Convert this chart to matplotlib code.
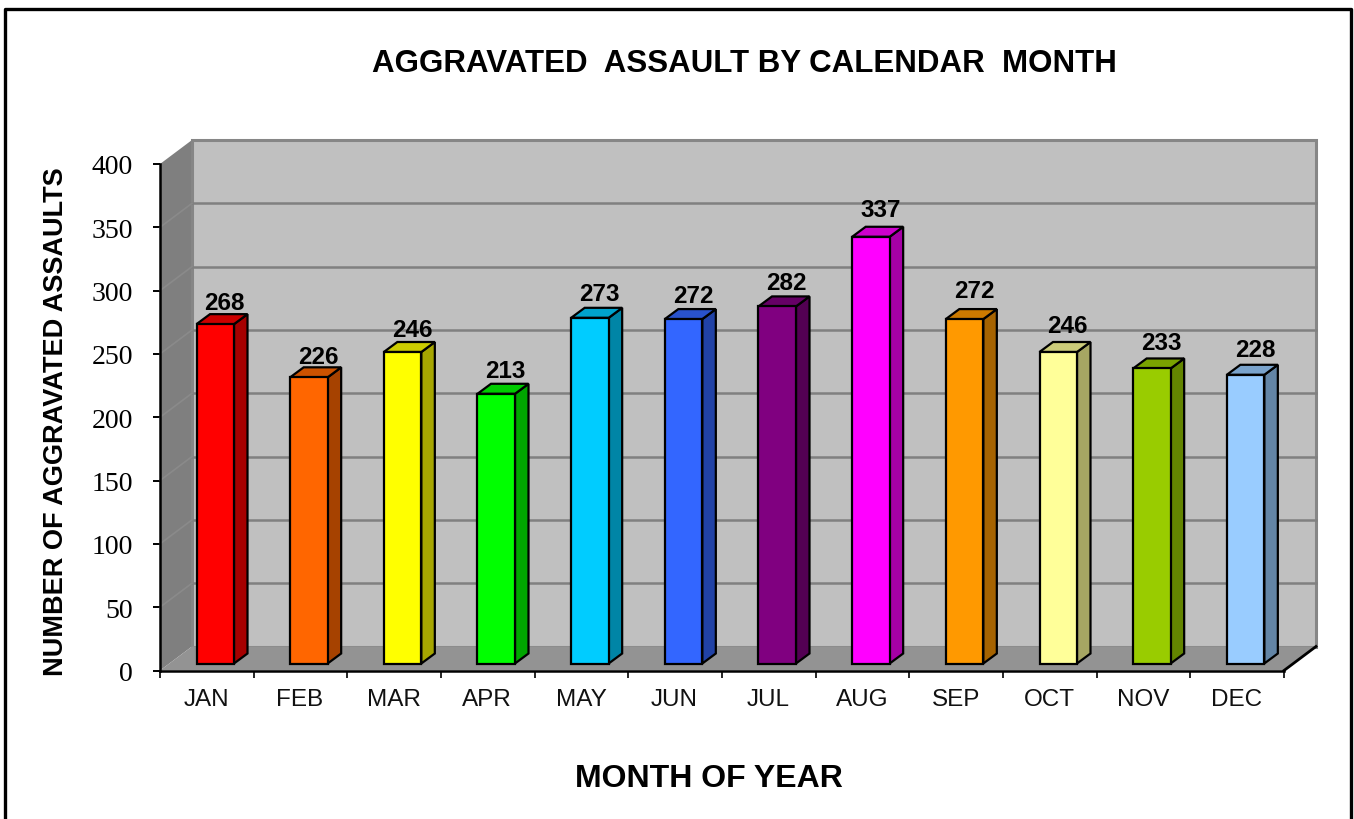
import matplotlib
matplotlib.use("Agg")
import matplotlib.pyplot as plt

months = ["JAN", "FEB", "MAR", "APR", "MAY", "JUN", "JUL", "AUG", "SEP", "OCT", "NOV", "DEC"]
assaults = [268, 226, 246, 213, 273, 272, 282, 337, 272, 246, 233, 228]
front_colors = ["#FF0000", "#FF6600", "#FFFF00", "#00FF00", "#00CCFF", "#3366FF",
                "#800080", "#FF00FF", "#FF9900", "#FFFF99", "#99CC00", "#99CCFF"]
top_colors = ["#CC0000", "#CC5200", "#CCCC00", "#00CC00", "#00A3CC", "#2952CC",
              "#660066", "#CC00CC", "#CC7A00", "#CCCC7A", "#7AA300", "#7AA3CC"]
side_colors = ["#A60000", "#A64200", "#A6A600", "#00A600", "#0085A6", "#2142A6",
               "#530053", "#A600A6", "#A66300", "#A6A663", "#638500", "#6385A6"]
y_ticks = [0, 50, 100, 150, 200, 250, 300, 350, 400]
label_lift_px = [12, 11, 13, 13, 14, 14, 14, 17, 19, 17, 16, 15]

W, H = 1354, 820
fig = plt.figure(figsize=(W / 100, H / 100), dpi=100, facecolor="white")
L, R, B, T = 160, 1284, 671.5, 165
ax = fig.add_axes([L / W, 1 - B / H, (R - L) / W, (B - T) / H])
ax.set_xlim(0, 12)
ax.set_ylim(0, 400)
ax.set_facecolor("none")
px_x = (R - L) / 12
px_y = (B - T) / 400

# chart-box depth, in data units
dx = 32 / px_x
dy = 24 / px_y
# bar placement and depth, in data units
bar_off = 36.5 / px_x
bar_w = 37.5 / px_x
base = 7 / px_y
bdx = 13.5 / px_x
bdy = 10 / px_y

# walls and floor
ax.fill([0, dx, dx, 0], [0, dy, 400 + dy, 400], color="#7F7F7F", lw=0, zorder=1, clip_on=False)
ax.fill([dx, 12 + dx, 12 + dx, dx], [dy, dy, 400 + dy, 400 + dy], facecolor="#C0C0C0",
        edgecolor="#868686", lw=2.2, zorder=1, clip_on=False)
ax.fill([0, 12, 12 + dx, dx], [0, 0, dy, dy], color="#939393", lw=0, zorder=2, clip_on=False)
for v in y_ticks[1:-1]:
    ax.plot([dx, 12 + dx], [v + dy, v + dy], color="#808080", lw=1.8, zorder=2, clip_on=False)
    ax.plot([0, dx], [v, v + dy], color="#8A8A8A", lw=1.2, zorder=2, clip_on=False)
ax.plot([12, 12 + dx], [0, dy], color="black", lw=2, zorder=3, clip_on=False)

# bars
xs = [i + bar_off for i in range(len(months))]
ax.bar(xs, assaults, width=bar_w, bottom=base, align="edge", color=front_colors,
       edgecolor="black", linewidth=1.6, zorder=6, clip_on=False)
for x, v, ct, cs, lift in zip(xs, assaults, top_colors, side_colors, label_lift_px):
    t = v + base
    ax.fill([x + bar_w, x + bar_w + bdx, x + bar_w + bdx, x + bar_w],
            [base, base + bdy, t + bdy, t], facecolor=cs, edgecolor="black", lw=1.6,
            zorder=5, clip_on=False)
    ax.fill([x, x + bdx, x + bar_w + bdx, x + bar_w], [t, t + bdy, t + bdy, t],
            facecolor=ct, edgecolor="black", lw=1.6, zorder=5, clip_on=False)
    ax.annotate(str(v), (x + bar_w + bdx, t + bdy), xytext=(-16.5, lift * 0.72),
                textcoords="offset points", ha="center", va="center", fontsize=17.5,
                fontweight="bold", family="Liberation Sans", color="black", zorder=7)

for s in ("top", "right"):
    ax.spines[s].set_visible(False)
for s in ("left", "bottom"):
    ax.spines[s].set_linewidth(1.8)
    ax.spines[s].set_zorder(8)

ax.set_yticks(y_ticks)
ax.set_yticklabels([str(v) for v in y_ticks], family="Liberation Serif", fontsize=20)
ax.set_xticks(range(13))
ax.set_xticklabels([""] * 13)
ax.tick_params(axis="y", length=5, width=1.4, pad=14.4, direction="out")
ax.tick_params(axis="x", length=5, width=1.2, direction="out")
for i, m in enumerate(months):
    ax.annotate(m, (i + 0.5, 0), xytext=(-0.4, -12.5), textcoords="offset points", ha="center",
                va="top", fontsize=17.5, family="Liberation Sans", color="#111111",
                annotation_clip=False)

# titles
fig.text(744 / W, 1 - 63.5 / H, "AGGRAVATED  ASSAULT BY CALENDAR  MONTH", ha="center", va="center",
         fontsize=22.5, fontweight="bold", family="Liberation Sans")
fig.text(709 / W, 1 - 779.5 / H, "MONTH OF YEAR", ha="center", va="center",
         fontsize=23, fontweight="bold", family="Liberation Sans")
fig.text(56 / W, 1 - 422 / H, "NUMBER OF AGGRAVATED ASSAULTS", ha="center", va="center",
         rotation=90, fontsize=19.5, fontweight="bold", family="Liberation Sans")

# outer frame, open at the bottom edge
fig.add_artist(plt.Line2D([5.5 / W, 5.5 / W, 1351 / W, 1351 / W],
                          [0, 1 - 9.5 / H, 1 - 9.5 / H, 0], color="black", lw=2.4,
                          transform=fig.transFigure))

fig.savefig("out.png", dpi=100, facecolor="white")
